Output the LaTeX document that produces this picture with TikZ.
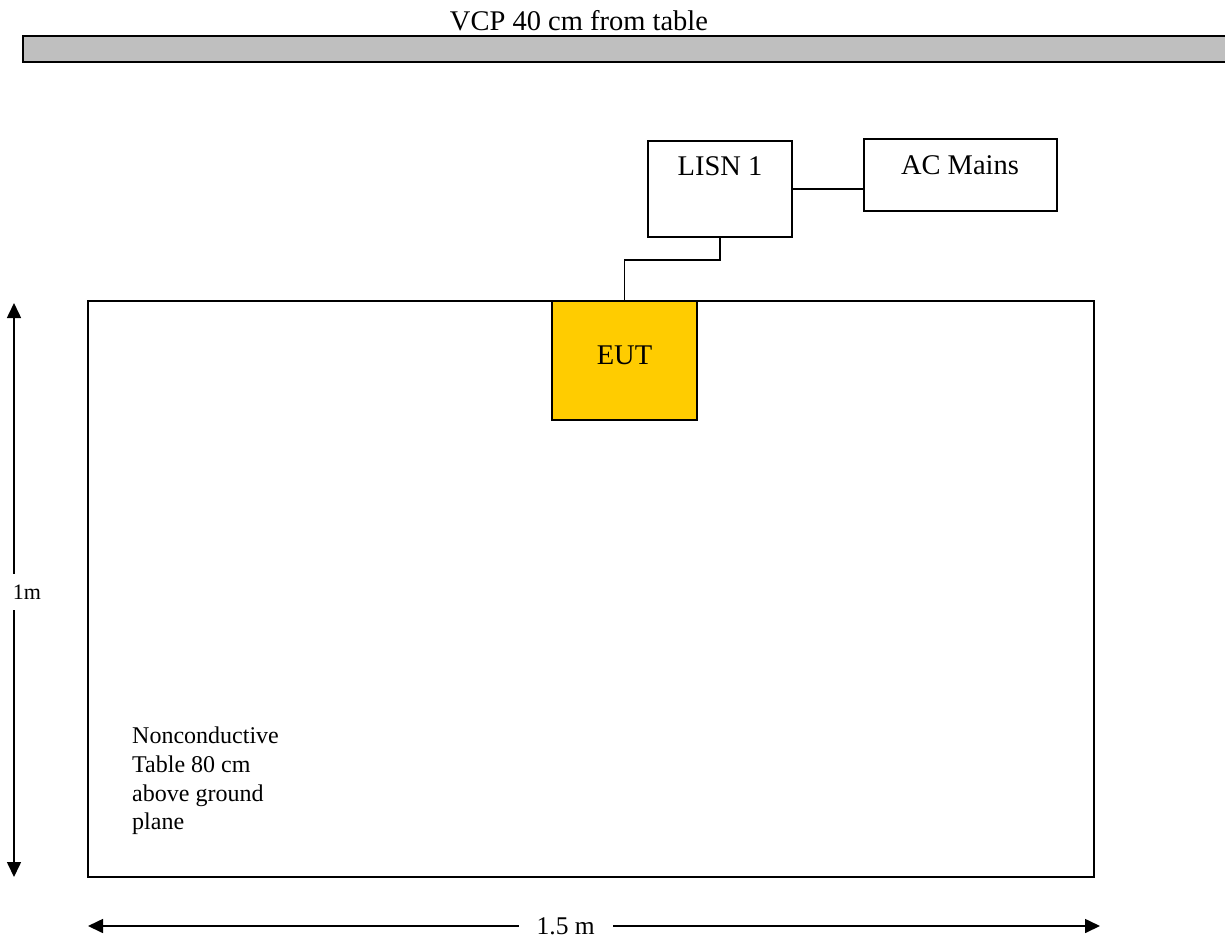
\documentclass[tikz,border=0pt]{standalone}
\usepackage{fontspec}
\setmainfont{Liberation Serif}
\usetikzlibrary{arrows.meta,positioning,calc}
\definecolor{eutyellow}{HTML}{FFCC00}

\begin{document}
\begin{tikzpicture}[x=1pt, y=-1pt,
    vcpbar/.style={draw, line width=2.5pt, fill=black!25, minimum width=1215pt, minimum height=26pt, inner sep=0pt},
    box/.style={draw, line width=1.5pt, fill=white, inner sep=0pt},
    eutbox/.style={box, fill=eutyellow},
    biglbl/.style={font=\fontsize{28.5}{32}\selectfont, inner sep=0pt, anchor=base},
    wire/.style={line width=1.5pt},
    dimarrow/.style={line width=1.6pt, {Triangle[length=15pt,width=14pt]}-{Triangle[length=15pt,width=14pt]}}
]
    \useasboundingbox (0,0) rectangle (1225,939);

    % Vertical coupling plane
    \node[biglbl] (title) at (579,31) {VCP 40 cm from table};
    \node[vcpbar] (vcp) at (630.5,49) {};

    % Table and EUT
    \node[box, line width=2pt, minimum width=1006pt, minimum height=576pt] (table) at (591,589) {};
    \node[eutbox, minimum width=145pt, minimum height=119pt] (eut) at (624.5,360.5) {};
    \node[biglbl] (euttxt) at (624.5,364) {EUT};
    \node[anchor=north west, align=left, inner sep=0pt, font=\fontsize{24}{28.7}\selectfont] (note) at (132,727)
        {Nonconductive\\Table 80 cm\\above ground\\plane};

    % LISN and mains
    \node[box, minimum width=144pt, minimum height=96pt] (lisn) at (720,189) {};
    \node[biglbl] (lisntxt) at (720,175) {LISN 1};
    \node[box, minimum width=193pt, minimum height=72pt] (acmains) at (960.5,175) {};
    \node[biglbl] (actxt) at (960,174) {AC Mains};

    \draw[wire] (lisn.east) -- (lisn.east -| acmains.west);
    \draw[wire] (lisn.south) -- ++(0,22) -| (eut.north);

    % Dimensions
    \coordinate (htop) at (14,303);
    \coordinate (hbot) at (14,877);
    \draw[dimarrow] (htop) -- (hbot);
    \node[fill=white, inner xsep=3pt, inner ysep=11pt, font=\fontsize{22}{24}\selectfont] (hlbl) at (27,592) {1m};

    \coordinate (wleft) at (88,926);
    \coordinate (wright) at (1100,926);
    \draw[dimarrow] (wleft) -- node[pos=0.472, fill=white, inner xsep=18pt, inner ysep=2pt, font=\fontsize{25.5}{28}\selectfont] (wlbl) {1.5 m} (wright);
\end{tikzpicture}
\end{document}
